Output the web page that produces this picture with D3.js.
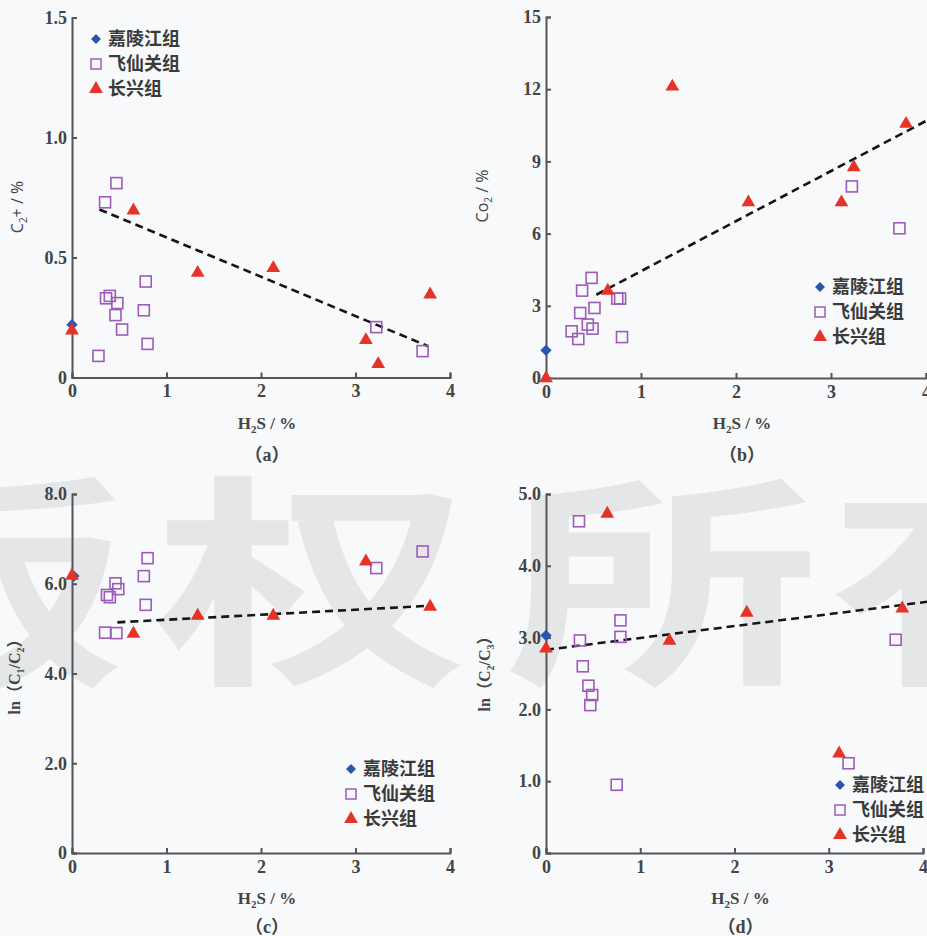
<!DOCTYPE html>
<html lang="zh">
<head>
  <meta charset="UTF-8">
  <title>H2S cross plots</title>
  <script src="https://cdn.jsdelivr.net/npm/d3@7/dist/d3.min.js"></script>
  <style>
    body { margin: 0; background: #f7f9fb; overflow: hidden; }
    svg { display: block; }
    .tick text { font-family: "Liberation Serif", "Times New Roman", serif; font-weight: bold; font-size: 18px; fill: #444; }
    .legend text { font-family: "Noto Sans CJK SC", sans-serif; font-weight: bold; font-size: 18px; fill: #3a3a3a; }
  </style>
</head>
<body>
  <svg id="chart"></svg>
  <script>
    // series names
    const seriesNames = ['嘉陵江组', '飞仙关组', '长兴组'];
    const xTicks = [0, 1, 2, 3, 4];

    // (a) C2+ vs H2S
    const aJia = [[0, 0.22]];
    const aFei = [[0.35, 0.73], [0.47, 0.81], [0.40, 0.34], [0.36, 0.33], [0.48, 0.31], [0.46, 0.26],
      [0.53, 0.20], [0.28, 0.09], [0.78, 0.40], [0.76, 0.28], [0.80, 0.14], [3.22, 0.21], [3.71, 0.11]];
    const aChang = [[0, 0.20], [0.65, 0.70], [1.33, 0.44], [2.13, 0.46], [3.11, 0.16], [3.24, 0.06], [3.79, 0.35]];
    const aTrend = [[0.29, 0.70], [3.77, 0.13]];
    const aTicks = [0, 0.5, 1.0, 1.5];

    // (b) CO2 vs H2S
    const bJia = [[0, 1.15]];
    const bFei = [[0.48, 4.16], [0.38, 3.63], [0.36, 2.70], [0.51, 2.91], [0.44, 2.22], [0.49, 2.05],
      [0.27, 1.94], [0.34, 1.62], [0.75, 3.30], [0.78, 3.30], [0.80, 1.70], [3.22, 7.96], [3.72, 6.22]];
    const bChang = [[0, 0.03], [0.65, 3.67], [1.33, 12.15], [2.13, 7.34], [3.11, 7.34], [3.24, 8.8], [3.79, 10.6]];
    const bTrend = [[0.53, 3.46], [4.0, 10.68]];
    const bTicks = [0, 3, 6, 9, 12, 15];

    // (c) ln(C1/C2) vs H2S
    const cJia = [[0.02, 6.17]];
    const cFei = [[0.80, 6.57], [0.76, 6.17], [0.78, 5.53], [0.46, 6.01], [0.49, 5.88], [0.37, 5.75],
      [0.40, 5.70], [0.35, 4.91], [0.47, 4.90], [3.22, 6.35], [3.71, 6.72]];
    const cChang = [[0, 6.2], [0.65, 4.91], [1.33, 5.31], [2.13, 5.31], [3.11, 6.52], [3.79, 5.51]];
    const cTrend = [[0.48, 5.14], [3.79, 5.51]];
    const cTicks = [0, 2, 4, 6, 8];

    // (d) ln(C2/C3) vs H2S
    const dJia = [[0, 3.03]];
    const dFei = [[0.35, 4.62], [0.36, 2.96], [0.39, 2.60], [0.45, 2.33], [0.49, 2.20], [0.47, 2.06],
      [0.79, 3.24], [0.79, 3.01], [0.75, 0.95], [3.21, 1.25], [3.71, 2.97]];
    const dChang = [[0, 2.86], [0.65, 4.74], [1.31, 2.97], [2.13, 3.36], [3.11, 1.40], [3.78, 3.42]];
    const dTrend = [[0, 2.83], [4.05, 3.50]];
    const dTicks = [0, 1, 2, 3, 4, 5];

    const width = 927, height = 936;
    const serif = '"Liberation Serif", "Times New Roman", serif';
    const svg = d3.select('#chart').attr('width', width).attr('height', height);

    svg.append('rect').attr('width', width).attr('height', height).attr('fill', '#f7f9fb');

    // watermark
    const wm = svg.append('g').attr('fill', '#e5e6e7')
      .style('font-family', '"Noto Sans CJK SC", sans-serif').style('font-weight', 700).style('font-size', '225px');
    [['版', -30], ['权', 312], ['所', 662], ['有', 985]].forEach(([ch, cx]) => {
      wm.append('text').attr('transform', `translate(${cx},667) scale(1.4,1)`)
        .attr('text-anchor', 'middle').text(ch);
    });

    const panels = [
      { left: 72, top: 17.5, w: 378, h: 360, ymax: 1.5, yTicks: aTicks, fmt: d => d === 0 ? '0' : d.toFixed(1),
        jia: aJia, fei: aFei, chang: aChang, trend: aTrend, tag: 'a', capY: 461,
        ylab: [['C', 0], ['2', 1], ['+ / %', 0]], ylabX: 23, ylabY: 207, ylabSerif: false,
        legend: { x: 96, y: 39 } },
      { left: 546, top: 17, w: 380, h: 361, ymax: 15, yTicks: bTicks, fmt: d => String(d),
        jia: bJia, fei: bFei, chang: bChang, trend: bTrend, tag: 'b', capY: 461,
        ylab: [['Co', 0], ['2', 1], [' / %', 0]], ylabX: 488, ylabY: 196, ylabSerif: false,
        legend: { x: 820, y: 287 } },
      { left: 72, top: 494, w: 378, h: 359, ymax: 8, yTicks: cTicks, fmt: d => d === 0 ? '0' : d.toFixed(1),
        jia: cJia, fei: cFei, chang: cChang, trend: cTrend, tag: 'c', capY: 933,
        ylab: [['ln（C', 0], ['1', 1], ['/C', 0], ['2', 1], ['）', 0]], ylabX: 20, ylabY: 673, ylabSerif: true,
        legend: { x: 351, y: 769 } },
      { left: 546, top: 494, w: 377, h: 359, ymax: 5, yTicks: dTicks, fmt: d => d === 0 ? '0' : d.toFixed(1),
        jia: dJia, fei: dFei, chang: dChang, trend: dTrend, tag: 'd', capY: 933,
        ylab: [['ln（C', 0], ['2', 1], ['/C', 0], ['3', 1], ['）', 0]], ylabX: 490, ylabY: 670, ylabSerif: true,
        legend: { x: 840, y: 785 } }
    ];

    const colors = { jia: '#2a56b0', fei: '#9c5cb8', chang: '#e63327' };
    const diamond = d3.symbol().type(d3.symbolSquare).size(64);
    const triangle = d3.symbol().type(d3.symbolTriangle).size(82);

    panels.forEach(p => {
      const g = svg.append('g').attr('transform', `translate(${p.left},${p.top})`);
      const x = d3.scaleLinear().domain([0, 4]).range([0, p.w]);
      const y = d3.scaleLinear().domain([0, p.ymax]).range([p.h, 0]);

      const yAxis = g.append('g')
        .call(d3.axisLeft(y).tickValues(p.yTicks).tickFormat(p.fmt).tickSize(-5).tickPadding(5));
      const xAxis = g.append('g').attr('transform', `translate(0,${p.h})`)
        .call(d3.axisBottom(x).tickValues(xTicks).tickFormat(d3.format('d')).tickSize(-5).tickPadding(7));
      [yAxis, xAxis].forEach(a => {
        a.attr('font-family', serif);
        a.select('.domain').attr('stroke', '#555').attr('stroke-width', 2);
        a.selectAll('.tick line').attr('stroke', '#555').attr('stroke-width', 2);
      });

      // trend line
      g.append('path')
        .attr('d', d3.line().x(d => x(d[0])).y(d => y(d[1]))(p.trend))
        .attr('fill', 'none').attr('stroke', '#151515').attr('stroke-width', 2.6)
        .attr('stroke-dasharray', '8,5');

      // points
      g.selectAll('.fei').data(p.fei).enter().append('rect')
        .attr('x', d => x(d[0]) - 5.5).attr('y', d => y(d[1]) - 5.5)
        .attr('width', 11).attr('height', 11)
        .attr('fill', 'none').attr('stroke', colors.fei).attr('stroke-width', 1.6);
      g.selectAll('.jia').data(p.jia).enter().append('path')
        .attr('transform', d => `translate(${x(d[0])},${y(d[1])}) rotate(45)`)
        .attr('d', diamond).attr('fill', colors.jia);
      g.selectAll('.chang').data(p.chang).enter().append('path')
        .attr('transform', d => `translate(${x(d[0])},${y(d[1]) + 1})`)
        .attr('d', triangle).attr('fill', colors.chang);

      // x axis title
      const xt = g.append('text').attr('x', p.w / 2 + 6).attr('y', p.h + 51)
        .attr('text-anchor', 'middle').attr('fill', '#444')
        .style('font-family', serif).style('font-weight', 'bold').style('font-size', '17px');
      xt.append('tspan').text('H');
      xt.append('tspan').text('2').attr('dy', 4).style('font-size', '11px');
      xt.append('tspan').text('S / %').attr('dy', -4);

      svg.append('text').attr('x', p.left + p.w / 2 + 6).attr('y', p.capY)
        .attr('text-anchor', 'middle').attr('fill', '#444')
        .style('font-family', serif + ', "Noto Sans CJK SC"').style('font-weight', 'bold').style('font-size', '18px')
        .text(`（${p.tag}）`);

      // y axis title
      const yt = svg.append('text')
        .attr('transform', `translate(${p.ylabX},${p.ylabY}) rotate(-90)`)
        .attr('text-anchor', 'middle').attr('fill', '#444')
        .style('font-family', p.ylabSerif ? serif + ', "Noto Sans CJK SC"' : '"Open Sans", sans-serif')
        .style('font-weight', p.ylabSerif ? 'bold' : 'normal').style('font-size', '16px');
      let prevSub = 0;
      p.ylab.forEach(([t, sub]) => {
        yt.append('tspan').text(t).attr('dy', (sub - prevSub) * 4).style('font-size', sub ? '10px' : null);
        prevSub = sub;
      });

      // legend
      const lg = svg.append('g').attr('class', 'legend').attr('transform', `translate(${p.legend.x},${p.legend.y})`);
      seriesNames.forEach((name, i) => {
        const row = lg.append('g').attr('transform', `translate(0,${i * 25})`);
        if (i === 0) row.append('path').attr('d', d3.symbol().type(d3.symbolSquare).size(50)).attr('transform', 'rotate(45)').attr('fill', colors.jia);
        if (i === 1) row.append('rect').attr('x', -5).attr('y', -5).attr('width', 10).attr('height', 10)
          .attr('fill', 'none').attr('stroke', colors.fei).attr('stroke-width', 1.5);
        if (i === 2) row.append('path').attr('d', triangle).attr('fill', colors.chang);
        row.append('text').attr('x', 12).attr('dy', '0.36em').text(name);
      });
    });
  </script>
</body>
</html>
